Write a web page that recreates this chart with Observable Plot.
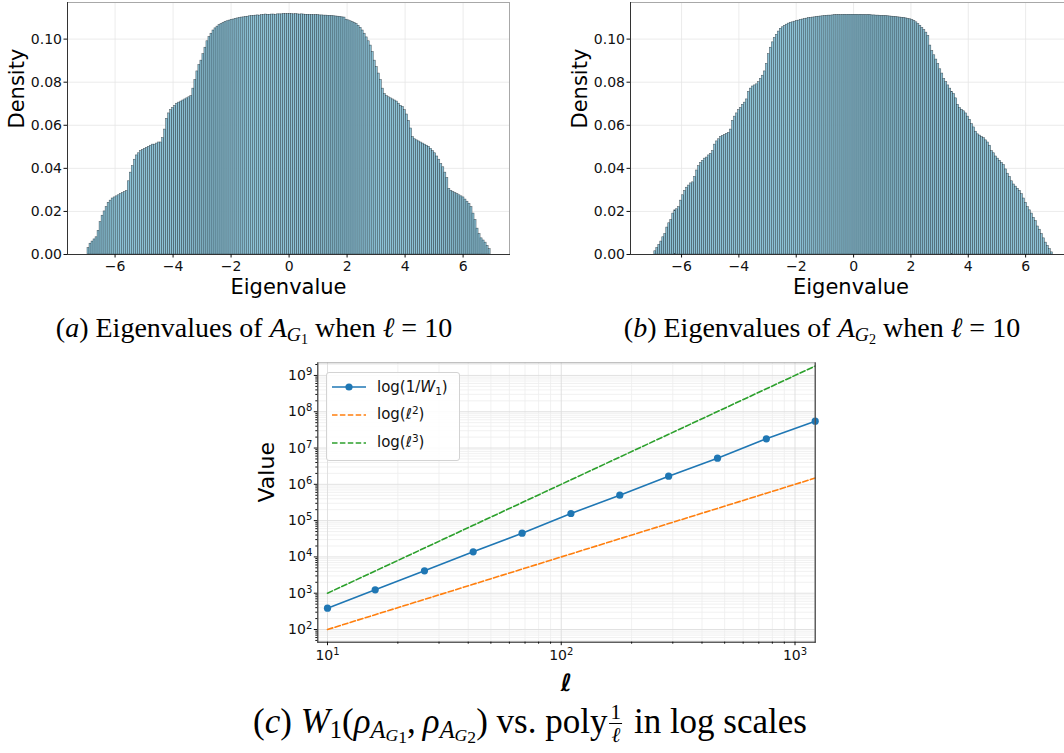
<!DOCTYPE html>
<html><head><meta charset="utf-8">
<script src="https://cdn.jsdelivr.net/npm/d3@7"></script>
<script src="https://cdn.jsdelivr.net/npm/@observablehq/plot@0.6"></script>
<style>
html,body{margin:0;padding:0;background:#fff;overflow:hidden;width:1064px;height:753px;}
#root{position:relative;width:1064px;height:753px;overflow:hidden;}
.box{position:absolute;overflow:hidden;}
.cap{position:absolute;font-family:"Liberation Serif","Times New Roman",serif;font-size:28px;line-height:30px;white-space:nowrap;color:#000;transform:translateX(-50%);}
.cap sub{font-size:0.7em;vertical-align:-0.22em;line-height:0;}
.cap sub sub{font-size:0.72em;vertical-align:-0.18em;}
.cap sub sub sub{font-size:1em;vertical-align:-0.12em;}
.frac{display:inline-block;vertical-align:-0.45em;text-align:center;font-size:0.6em;line-height:1.05;margin:0 3px 0 2px;}
.frac span{display:block;}
.frac .den{border-top:1px solid #000;padding:0 2px;}
.legend{position:absolute;left:326px;top:372px;width:132px;height:87px;border:1px solid #d3d3d3;border-radius:3px;background:rgba(255,255,255,0.85);font-family:"DejaVu Sans",sans-serif;font-size:15px;color:#111;}
.legend .it{position:absolute;left:50px;line-height:18px;white-space:nowrap;}
.legend svg{position:absolute;left:4px;}
.legend sub{font-size:0.7em;vertical-align:-0.25em;line-height:0;}
.legend sup{font-size:0.7em;vertical-align:0.45em;line-height:0;}
</style></head><body><div id="root"></div>
<script>
// ---------- histogram data (density per bin, 200 equal bins) ----------
const binLo = -6.95, binHi = 6.95;
const densG1 = [
0.003,0.005,0.006,0.007,0.008,0.011,0.015,0.018,0.020,0.022,
0.024,0.025,0.026,0.0265,0.027,0.0275,0.028,0.0285,0.029,0.0295,
0.034,0.038,0.041,0.044,0.046,0.047,0.048,0.0485,0.049,0.0495,
0.050,0.0505,0.051,0.051,0.0515,0.052,0.052,0.054,0.058,0.063,
0.0655,0.067,0.068,0.069,0.070,0.0705,0.071,0.0715,0.072,0.0725,
0.073,0.0735,0.077,0.081,0.085,0.088,0.090,0.093,0.096,0.099,
0.101,0.1025,0.104,0.105,0.1058,0.1065,0.107,0.1075,0.108,0.1083,
0.1086,0.1089,0.1091,0.1094,0.1096,0.1098,0.1100,0.1101,0.1103,0.1104,
0.1106,0.1107,0.1108,0.1109,0.1110,0.1109,0.1111,0.1112,0.1114,0.1113,
0.1113,0.1114,0.1114,0.1112,0.1115,0.1115,0.1115,0.1117,0.1116,0.1116,
0.1116,0.1116,0.1115,0.1116,0.1115,0.1114,0.1115,0.1114,0.1113,0.1113,
0.1112,0.1112,0.1111,0.1112,0.1111,0.1110,0.1110,0.1109,0.1109,0.1108,
0.1108,0.1107,0.1106,0.1105,0.1104,0.1103,0.1101,0.1100,
0.1090,0.1087,0.1083,0.1079,0.1075,0.107,0.1062,0.1052,0.1040,0.1025,
0.1008,0.099,0.097,0.094,0.090,0.087,0.084,0.081,0.077,0.0745,
0.0735,0.073,0.0725,0.072,0.0715,0.071,0.070,0.069,0.0685,0.067,
0.065,0.062,0.0585,0.0545,0.0535,0.053,0.0525,0.052,0.0515,0.051,
0.0505,0.050,0.049,0.048,0.047,0.0455,0.044,0.042,0.0405,0.038,
0.0355,0.0305,0.0295,0.029,0.0285,0.028,0.0275,0.027,0.0265,0.0255,
0.0245,0.0235,0.022,0.019,0.016,0.012,0.0095,0.0075,0.0065,0.0055,
0.004,0.0025];
const densG2 = [
0.0015,0.003,0.0045,0.006,0.008,0.0095,0.0125,0.0145,0.016,0.019,
0.0205,0.021,0.022,0.025,0.0275,0.0295,0.031,0.032,0.033,0.0335,
0.036,0.039,0.041,0.0425,0.0435,0.0445,0.045,0.046,0.0467,0.048,
0.051,0.0525,0.0535,0.0545,0.055,0.0555,0.056,0.0565,0.058,0.062,
0.064,0.0655,0.067,0.068,0.0695,0.0705,0.072,0.0755,0.077,0.078,
0.0785,0.079,0.080,0.0815,0.083,0.085,0.0885,0.093,0.096,0.0985,
0.1005,0.102,0.1035,0.1048,0.1055,0.1062,0.1067,0.1072,0.1076,0.1078,
0.1081,0.1084,0.1086,0.1089,0.1091,0.1093,0.1095,0.1097,0.1098,0.1100,
0.1101,0.1103,0.1104,0.1105,0.1106,0.1107,0.1108,0.1109,0.1109,0.1110,
0.1111,0.1111,0.1112,0.1111,0.1112,0.1113,0.1112,0.1113,0.1113,0.1113,
0.1113,0.1113,0.1112,0.1113,0.1112,0.1112,0.1111,0.1112,0.1111,0.1110,
0.1110,0.1109,0.1109,0.1108,0.1108,0.1107,0.1107,0.1106,0.1105,0.1104,
0.1103,0.1102,0.1101,0.1100,0.1099,0.1098,0.1096,0.1094,
0.1092,0.1089,0.1085,0.1078,0.107,0.1062,0.1052,0.1042,0.103,0.1015,
0.097,0.0945,0.0925,0.0905,0.0885,0.086,0.084,0.0815,0.080,0.0785,
0.077,0.0755,0.0745,0.0725,0.0695,0.068,0.0672,0.0665,0.0655,0.064,
0.0625,0.0605,0.059,0.057,0.0558,0.0552,0.0545,0.054,0.053,0.052,
0.0505,0.048,0.047,0.0455,0.0445,0.0435,0.0425,0.0415,0.0395,0.0375,
0.036,0.034,0.0325,0.0315,0.0305,0.0295,0.028,0.026,0.024,0.022,
0.0205,0.019,0.017,0.0155,0.013,0.0115,0.0095,0.0075,0.0055,0.004,
0.0025,0.001];
const histXTicks = [-6,-4,-2,0,2,4,6];
const histYTicks = [0,0.02,0.04,0.06,0.08,0.10];

// ---------- log-log data ----------
const ellValues = [10,16,26,42,68,110,178,288,466,754,1220];
const invW1 = [386,1242,4145,13840,45040,157200,502200,1676000,5252000,17980000,54950000];
const ellSq = [100,256,676,1764,4624,12100,31684,82944,217156,568516,1488400];
const ellCube = [1000,4096,17576,74088,314432,1331000,5639752,23887872,101194696,428661064,1815848000];
const logXMajor = [10,100,1000];
const logYMajor = [1e2,1e3,1e4,1e5,1e6,1e7,1e8,1e9];

const root = document.getElementById("root");
const FONT = "DejaVu Sans";
const minusFmt = d => (d < 0 ? "\u2212" : "") + Math.abs(d);

function hist(dens, o) {
  const w = (binHi - binLo) / dens.length;
  const bins = dens.map((d, i) => ({x1: binLo + i * w, x2: binLo + (i + 1) * w, y: d}));
  return Plot.plot({
    width: o.width, height: 304,
    marginLeft: o.ml, marginRight: o.mr, marginTop: 2, marginBottom: 50,
    style: {fontFamily: FONT, fontSize: "14px", color: "#111", background: "none", maxWidth: "none", overflow: "visible"},
    x: {domain: o.xdom, label: null},
    y: {domain: [0, 0.117], label: null},
    marks: [
      Plot.gridX(histXTicks, {stroke: "#e6e6e6", strokeOpacity: 1, strokeWidth: 0.8}),
      Plot.gridY(histYTicks, {stroke: "#e6e6e6", strokeOpacity: 1, strokeWidth: 0.8}),
      Plot.rectY(bins, {x1: "x1", x2: "x2", y: "y", inset: 0, fill: "#8cc2d6", stroke: "#1d2c34", strokeWidth: 0.55, strokeOpacity: 0.75}),
      Plot.frame({stroke: "#a8a8a8"}),
      Plot.frame({anchor: "left", stroke: "#333"}),
      Plot.frame({anchor: "bottom", stroke: "#333"}),
      Plot.axisX(histXTicks, {tickSize: 3.5, tickPadding: 3, tickFormat: minusFmt, fontSize: 14, label: null}),
      Plot.axisY(histYTicks, {tickSize: 3.5, tickPadding: 2, tickFormat: d => d.toFixed(2), fontSize: 14, label: null}),
      Plot.text(["Eigenvalue"], {text: d => d, frameAnchor: "bottom", lineAnchor: "middle", dy: 33, fontSize: 21, fill: "#000"}),
      Plot.text(["Density"], {text: d => d, frameAnchor: "left", lineAnchor: "middle", dx: -50, rotate: -90, fontSize: 21, fill: "#000"})
    ]
  });
}

function place(el, left, top, w, h) {
  const d = document.createElement("div");
  d.className = "box";
  d.style.left = left + "px"; d.style.top = top + "px";
  d.style.width = w + "px"; d.style.height = h + "px";
  d.appendChild(el);
  root.appendChild(d);
}

place(hist(densG1, {width: 530, ml: 67, mr: 21, xdom: [-7.64, 7.6]}), 0, 0, 530, 304);
place(hist(densG2, {width: 512, ml: 70, mr: 1, xdom: [-7.78, 7.6]}), 560, 0, 504, 304);

// ---------- log-log chart ----------
const minors = (lo, hi) => {
  const out = [];
  for (let e = lo; e <= hi; e++) for (let k = 2; k <= 9; k++) out.push(k * Math.pow(10, e));
  return out;
};
const xMinor = minors(1, 2);
const yMinor = minors(1, 9).filter(v => v > 44.7 && v < 2.23e9);
const pow10 = v => "10^" + Math.round(Math.log10(v));

const rowsW = ellValues.map((l, i) => ({l, v: invW1[i]}));
const rows2 = ellValues.map((l, i) => ({l, v: ellSq[i]}));
const rows3 = ellValues.map((l, i) => ({l, v: ellCube[i]}));

const loglog = Plot.plot({
  width: 1064, height: 362,
  marginLeft: 317.3, marginRight: 249.3, marginTop: 22.3, marginBottom: 60.3,
  style: {fontFamily: FONT, fontSize: "14px", color: "#111", background: "none", maxWidth: "none", overflow: "visible"},
  x: {type: "log", domain: [9.09, 1220], label: null},
  y: {type: "log", domain: [44.7, 2.23e9], label: null},
  marks: [
    Plot.gridX(xMinor, {stroke: "#ededed", strokeOpacity: 1, strokeWidth: 0.8}),
    Plot.gridY(yMinor, {stroke: "#ededed", strokeOpacity: 1, strokeWidth: 0.8}),
    Plot.gridX(logXMajor, {stroke: "#dedede", strokeOpacity: 1, strokeWidth: 0.9}),
    Plot.gridY(logYMajor, {stroke: "#dedede", strokeOpacity: 1, strokeWidth: 0.9}),
    Plot.line(rows2, {x: "l", y: "v", stroke: "#ff7f0e", strokeWidth: 1.6, strokeDasharray: "5.5,2.4"}),
    Plot.line(rows3, {x: "l", y: "v", stroke: "#2ca02c", strokeWidth: 1.6, strokeDasharray: "5.5,2.4"}),
    Plot.line(rowsW, {x: "l", y: "v", stroke: "#1f77b4", strokeWidth: 1.6}),
    Plot.dot(rowsW, {x: "l", y: "v", r: 3.6, fill: "#1f77b4", stroke: null}),
    Plot.frame({stroke: "#a8a8a8"}),
    Plot.frame({anchor: "left", stroke: "#333"}),
    Plot.frame({anchor: "bottom", stroke: "#333"}),
    Plot.frame({anchor: "right", stroke: "#333"}),
    Plot.axisX(xMinor, {tickSize: 2, tickFormat: () => "", label: null}),
    Plot.axisY(yMinor, {tickSize: 2, tickFormat: () => "", label: null}),
    Plot.axisX(logXMajor, {tickSize: 3.5, tickPadding: 4, tickFormat: pow10, fontSize: 14, label: null}),
    Plot.axisY(logYMajor, {tickSize: 3.5, tickPadding: 2, tickFormat: pow10, fontSize: 14, label: null}),
    Plot.text(["Value"], {text: d => d, frameAnchor: "left", lineAnchor: "middle", dx: -51, rotate: -90, fontSize: 22, fill: "#000"}),
    Plot.text(["\u2113"], {text: d => d, frameAnchor: "bottom", lineAnchor: "middle", dy: 41, fontSize: 24, fontWeight: "bold", fontStyle: "italic", fill: "#000"})
  ]
});
// render 10^k with a real superscript
const NS = "http://www.w3.org/2000/svg";
loglog.querySelectorAll("text").forEach(t => {
  const m = /^10\^(\d+)$/.exec(t.textContent);
  if (!m) return;
  t.textContent = "";
  const a = document.createElementNS(NS, "tspan"); a.textContent = "10"; t.appendChild(a);
  const b = document.createElementNS(NS, "tspan");
  b.setAttribute("dy", "-0.5em"); b.setAttribute("font-size", "10px");
  b.textContent = m[1]; t.appendChild(b);
});
place(loglog, 0, 340, 1064, 362);

// ---------- legend ----------
const legend = document.createElement("div");
legend.className = "legend";
legend.innerHTML = `
  <svg width="36" height="10" style="top:9px"><line x1="1" y1="5" x2="35" y2="5" stroke="#1f77b4" stroke-width="1.6"/><circle cx="18" cy="5" r="3.6" fill="#1f77b4"/></svg>
  <div class="it" style="top:5px">log(1/<i>W</i><sub>1</sub>)</div>
  <svg width="36" height="10" style="top:37px"><line x1="1" y1="5" x2="35" y2="5" stroke="#ff7f0e" stroke-width="1.6" stroke-dasharray="5.5,2.4"/></svg>
  <div class="it" style="top:32px">log(<i>ℓ</i><sup>2</sup>)</div>
  <svg width="36" height="10" style="top:65px"><line x1="1" y1="5" x2="35" y2="5" stroke="#2ca02c" stroke-width="1.6" stroke-dasharray="5.5,2.4"/></svg>
  <div class="it" style="top:60px">log(<i>ℓ</i><sup>3</sup>)</div>`;
root.appendChild(legend);

// ---------- captions ----------
function caption(html, cx, top, size, lh) {
  const s = document.createElement("div");
  s.className = "cap";
  s.style.left = cx + "px"; s.style.top = top + "px";
  if (size) s.style.fontSize = size + "px";
  if (lh) s.style.lineHeight = lh + "px";
  s.innerHTML = html;
  root.appendChild(s);
}
caption(`(<i>a</i>) Eigenvalues of <i>A</i><sub><i>G</i><sub>1</sub></sub> when <i>ℓ</i> = 10`, 254, 313);
caption(`(<i>b</i>) Eigenvalues of <i>A</i><sub><i>G</i><sub>2</sub></sub> when <i>ℓ</i> = 10`, 822, 313);
caption(`(<i>c</i>) <i>W</i><sub>1</sub>(<i>ρ</i><sub><i>A</i><sub><i>G</i><sub>1</sub></sub></sub>,&thinsp;<i>ρ</i><sub><i>A</i><sub><i>G</i><sub>2</sub></sub></sub>) vs. poly<span class="frac"><span>1</span><span class="den"><i>ℓ</i></span></span> in log scales`, 530, 701, 35, 38);
</script>
</body></html>
